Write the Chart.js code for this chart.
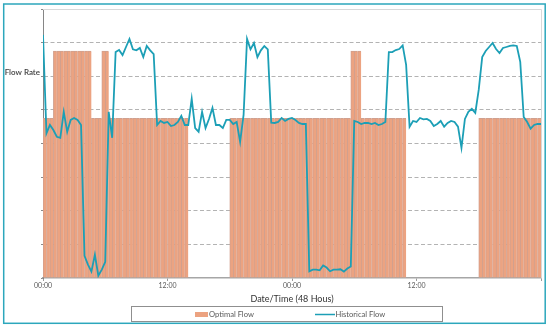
<!DOCTYPE html>
<html>
<head>
<meta charset="utf-8">
<title>Flow Rate - 48 hours</title>
<script src="https://cdn.jsdelivr.net/npm/chart.js@4.4.1/dist/chart.umd.min.js"></script>
<style>
  html, body { margin: 0; padding: 0; background: #fff; }
  #wrap { position: relative; width: 550px; height: 329px; }
</style>
</head>
<body>
<div id="wrap"><canvas id="flowChart" width="550" height="329"></canvas></div>
<script>
// one slot = 20 minutes, 48 hours in total
const stepHours = 1 / 3;

// Optimal flow per 20-min slot (null = pump off)
const optimalFlow = [
  4.75, 4.75, 4.75, 6.75, 6.75, 6.75, 6.75, 6.75, 6.75, 6.75, 6.75, 6.75,
  6.75, 6.75, 4.75, 4.75, 4.75, 6.75, 6.75, 4.75, 4.75, 4.75, 4.75, 4.75,
  4.75, 4.75, 4.75, 4.75, 4.75, 4.75, 4.75, 4.75, 4.75, 4.75, 4.75, 4.75,
  4.75, 4.75, 4.75, 4.75, 4.75, 4.75, null, null, null, null, null, null,
  null, null, null, null, null, null, 4.75, 4.75, 4.75, 4.75, 4.75, 4.75,
  4.75, 4.75, 4.75, 4.75, 4.75, 4.75, 4.75, 4.75, 4.75, 4.75, 4.75, 4.75,
  4.75, 4.75, 4.75, 4.75, 4.75, 4.75, 4.75, 4.75, 4.75, 4.75, 4.75, 4.75,
  4.75, 4.75, 4.75, 4.75, 4.75, 6.75, 6.75, 6.75, 4.75, 4.75, 4.75, 4.75,
  4.75, 4.75, 4.75, 4.75, 4.75, 4.75, 4.75, 4.75, 4.75, null, null, null,
  null, null, null, null, null, null, null, null, null, null, null, null,
  null, null, null, null, null, null, 4.75, 4.75, 4.75, 4.75, 4.75, 4.75,
  4.75, 4.75, 4.75, 4.75, 4.75, 4.75, 4.75, 4.75, 4.75, 4.75, 4.75, 4.75
];

// Historical (measured) flow, sampled every 20 minutes from 00:00 to 48h
const historicalFlow = [
  7.23, 4.30, 4.55, 4.40, 4.20, 4.17, 4.94, 4.35, 4.70, 4.76, 4.70, 4.55,
  0.66, 0.40, 0.19, 0.69, 0.07, 0.25, 0.48, 4.94, 4.17, 6.72, 6.78, 6.63,
  6.87, 7.11, 6.80, 6.77, 6.84, 6.57, 6.90, 6.77, 6.66, 4.55, 4.67, 4.61,
  4.64, 4.52, 4.55, 4.64, 4.82, 4.55, 4.55, 5.33, 4.46, 4.35, 4.94, 4.46,
  4.73, 5.06, 4.55, 4.55, 4.46, 4.70, 4.70, 4.58, 4.64, 4.05, 4.85, 7.11,
  6.80, 6.99, 6.57, 6.77, 6.90, 6.80, 4.62, 4.61, 4.64, 4.76, 4.67, 4.73,
  4.76, 4.70, 4.61, 4.58, 4.58, 0.20, 0.25, 0.25, 0.23, 0.37, 0.31, 0.20,
  0.25, 0.25, 0.26, 0.19, 0.28, 0.34, 4.67, 4.64, 4.58, 4.61, 4.61, 4.58,
  4.61, 4.55, 4.58, 4.64, 6.72, 6.72, 6.78, 6.81, 6.92, 6.34, 4.50, 4.67,
  4.64, 4.76, 4.72, 4.73, 4.67, 4.52, 4.58, 4.67, 4.50, 4.61, 4.67, 4.64,
  4.50, 3.87, 4.73, 4.94, 5.03, 4.91, 5.60, 6.57, 6.75, 6.87, 6.99, 6.81,
  6.69, 6.84, 6.87, 6.90, 6.92, 6.90, 6.43, 4.79, 4.64, 4.44, 4.55, 4.58,
  4.58
];

// x tick labels every 12 hours (last tick has no label)
const xTickLabels = ['00:00', '12:00', '00:00', '12:00', ''];
const yTitle = 'Flow Rate';
const xTitle = 'Date/Time (48 Hous)';

const FONT = 'Lato, "Open Sans", sans-serif';
const barColor = '#ECA381';
const barEdge = '#D1A08E';
const lineColor = '#1C9FB6';

// frame, outer border and the boxed legend
const decoPlugin = {
  id: 'deco',
  beforeDatasetsDraw(chart) {
    const { ctx, chartArea: a } = chart;
    ctx.save();
    ctx.strokeStyle = '#d9d9d9';
    ctx.lineWidth = 1;
    ctx.beginPath();
    ctx.moveTo(a.left, a.top + 0.5);
    ctx.lineTo(a.right + 0.5, a.top + 0.5);
    ctx.lineTo(a.right + 0.5, a.bottom);
    ctx.stroke();
    ctx.restore();
  },
  afterDraw(chart) {
    const { ctx } = chart;
    ctx.save();
    // outer teal border
    ctx.strokeStyle = '#2CA7BC';
    ctx.lineWidth = 1.5;
    ctx.strokeRect(3.7, 4, 541.5, 319.3);

    // legend box
    ctx.strokeStyle = '#8f8f8f';
    ctx.lineWidth = 1;
    ctx.strokeRect(131.5, 306.5, 311, 15);

    const ds = chart.data.datasets;
    const bar = ds.find(d => d.type === 'bar');
    const line = ds.find(d => d.type === 'line');
    const midY = 314.5;
    ctx.font = '7.6px ' + FONT;
    ctx.textBaseline = 'middle';
    ctx.textAlign = 'left';

    ctx.fillStyle = bar.backgroundColor;
    ctx.fillRect(195, 312, 13, 5);
    ctx.fillStyle = '#595959';
    ctx.fillText(bar.label, 209, midY);

    ctx.strokeStyle = line.borderColor;
    ctx.lineWidth = 1.5;
    ctx.beginPath();
    ctx.moveTo(315, midY);
    ctx.lineTo(335, midY);
    ctx.stroke();
    ctx.fillText(line.label, 335.5, midY);
    ctx.restore();
  }
};

const ctx = document.getElementById('flowChart').getContext('2d');
new Chart(ctx, {
  type: 'line',
  data: {
    datasets: [
      {
        type: 'line',
        label: 'Historical Flow',
        data: historicalFlow.map((v, i) => ({ x: i * stepHours, y: v })),
        borderColor: lineColor,
        backgroundColor: lineColor,
        borderWidth: 1.8,
        pointRadius: 0,
        tension: 0,
        order: 0
      },
      {
        type: 'bar',
        label: 'Optimal Flow',
        data: optimalFlow.map((v, i) => ({ x: (i + 0.5) * stepHours, y: v })),
        backgroundColor: barColor,
        borderColor: barEdge,
        borderWidth: { top: 1, left: 1, right: 0, bottom: 0 },
        borderSkipped: false,
        barPercentage: 1,
        categoryPercentage: 1,
        order: 1
      }
    ]
  },
  options: {
    responsive: false,
    animation: false,
    events: [],
    layout: { padding: { top: 9, right: 9, left: 0, bottom: 0 } },
    plugins: {
      legend: { display: false },
      tooltip: { enabled: false }
    },
    scales: {
      x: {
        type: 'linear',
        min: 0,
        max: 48,
        offset: false,
        afterFit: s => { s.height = 51; },
        afterBuildTicks: s => { s.ticks = xTickLabels.map((_, i) => ({ value: i * 12 })); },
        ticks: {
          autoSkip: false,
          maxRotation: 0,
          padding: 1,
          color: '#595959',
          font: { family: FONT, size: 7 },
          callback: (v, i) => xTickLabels[i]
        },
        grid: {
          offset: false,
          drawOnChartArea: false,
          drawTicks: true,
          tickLength: 3,
          tickColor: '#9a9a9a'
        },
        border: { color: '#a6a6a6', width: 1.5 },
        title: {
          display: true,
          text: xTitle,
          color: '#333333',
          font: { family: FONT, size: 9 },
          padding: { top: 0, bottom: 25 }
        }
      },
      y: {
        min: 0,
        max: 8,
        afterFit: s => { s.width = 43; },
        ticks: {
          stepSize: 1,
          autoSkip: false,
          padding: 1,
          labelOffset: -4,
          color: '#404040',
          font: { family: FONT, size: 8, weight: '600' },
          callback: v => (v === 6 ? yTitle : '')
        },
        grid: {
          color: c => (c.tick.value === 0 || c.tick.value === 8 ? 'rgba(0,0,0,0)' : '#b3b3b3'),
          tickBorderDash: [],
          tickColor: '#8a8a8a',
          tickLength: 2,
          lineWidth: 1
        },
        border: { color: '#868686', width: 1, dash: [4, 2.5] }
      }
    }
  },
  plugins: [decoPlugin]
});
</script>
</body>
</html>
